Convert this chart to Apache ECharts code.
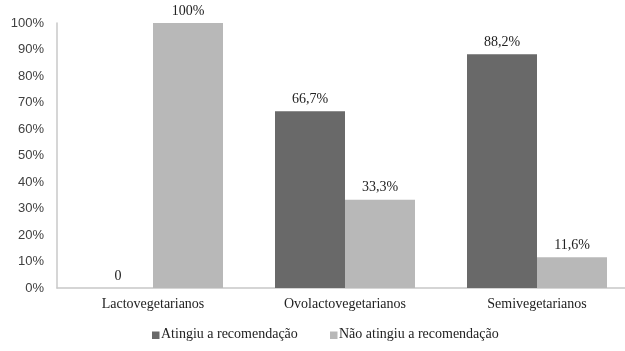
<!DOCTYPE html>
<html>
<head>
<meta charset="utf-8">
<script src="https://cdn.jsdelivr.net/npm/echarts@6/dist/echarts.min.js"></script>
<style>
  html, body { margin: 0; padding: 0; background: #fff; }
  #chart { width: 625px; height: 351px; }
</style>
</head>
<body>
<div id="chart"></div>
<script>
// categorias e valores (%)
const categorias = ['Lactovegetarianos', 'Ovolactovegetarianos', 'Semivegetarianos']
const atingiu = [0, 66.7, 88.2]
const naoAtingiu = [100, 33.3, 11.6]
const nomesSeries = ['Atingiu a recomendação', 'Não atingiu a recomendação']
const cores = ['#696969', '#b8b8b8']

const serif = 'Liberation Serif'
const sans = 'Liberation Sans'

// 0 -> "0", 100 -> "100%", 66.7 -> "66,7%"
function rotulo(v) {
  if (v === 0) return '0'
  if (Number.isInteger(v)) return v + '%'
  return v.toFixed(1).replace('.', ',') + '%'
}

const rotuloBarra = {
  show: true,
  position: 'top',
  distance: 5,
  fontFamily: serif,
  fontSize: 14,
  color: '#222',
  formatter: p => rotulo(p.value),
}

// legenda desenhada à mão, com fonte serifada
const legendaX = [152, 330]
const legenda = []
nomesSeries.forEach((nome, i) => {
  legenda.push({
    type: 'rect',
    left: legendaX[i],
    top: 331.5,
    shape: { width: 7.5, height: 7.5 },
    style: { fill: cores[i] },
  })
  legenda.push({
    type: 'text',
    left: legendaX[i] + 9,
    top: 327,
    style: { text: nome, fontFamily: serif, fontSize: 14, fill: '#222' },
  })
})

const chart = echarts.init(document.getElementById('chart'))

chart.setOption({
  animation: false,
  textStyle: { fontFamily: serif },
  grid: { left: 57, top: 23, width: 576, height: 265, outerBoundsMode: 'none', containLabel: false },
  legend: { show: false, data: nomesSeries },
  graphic: legenda,
  xAxis: {
    type: 'category',
    data: categorias,
    axisLine: { lineStyle: { color: '#c8c8c8', width: 1.5 } },
    axisTick: { show: false },
    axisLabel: { fontFamily: serif, fontSize: 14, color: '#222', margin: 9 },
  },
  yAxis: {
    type: 'value',
    min: 0,
    max: 100,
    interval: 10,
    splitLine: { show: false },
    axisLine: { show: true, lineStyle: { color: '#c8c8c8', width: 1.5 } },
    axisTick: { show: false },
    axisLabel: {
      fontFamily: sans,
      fontSize: 13,
      color: '#404040',
      margin: 13,
      formatter: '{value}%',
    },
  },
  series: [
    {
      name: nomesSeries[0],
      type: 'bar',
      data: atingiu,
      barWidth: 70,
      barGap: '0%',
      itemStyle: { color: cores[0] },
      label: rotuloBarra,
    },
    {
      name: nomesSeries[1],
      type: 'bar',
      data: naoAtingiu,
      barWidth: 70,
      itemStyle: { color: cores[1] },
      label: rotuloBarra,
    },
  ],
})
</script>
</body>
</html>
